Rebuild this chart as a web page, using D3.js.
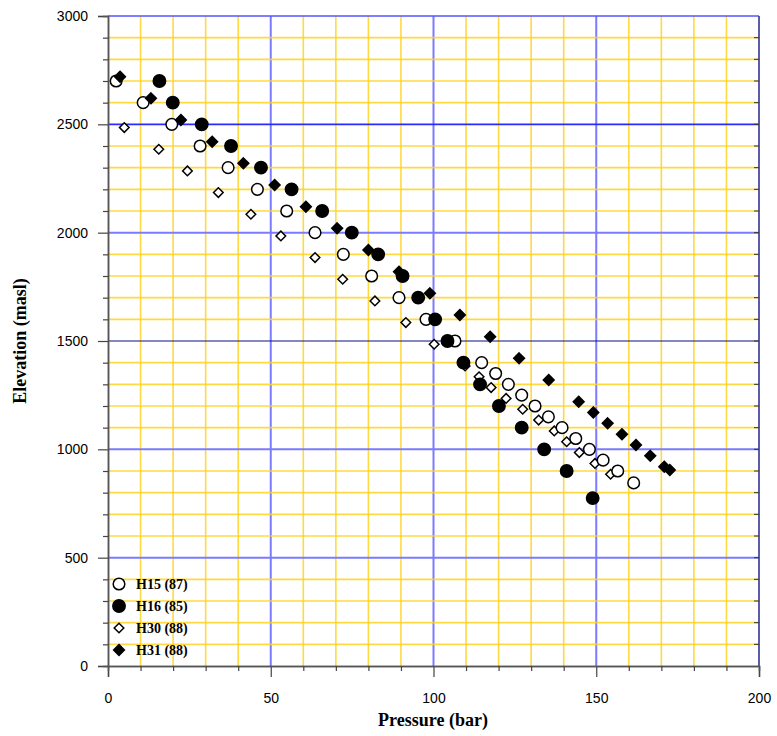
<!DOCTYPE html>
<html><head><meta charset="utf-8">
<script src="https://cdn.jsdelivr.net/npm/d3@7"></script>
<style>body{margin:0;background:#fff}</style>
</head><body>
<svg id="c" width="777" height="736"></svg>
<script>
// Data (pressure in bar, elevation in masl)
const h15P = [2.5,10.8,19.6,28.3,36.9,45.9,54.9,63.6,72.3,81.0,89.4,97.7,106.6,114.8,119.1,123.0,127.1,131.2,135.3,139.5,143.7,147.9,152.1,156.6,161.5];
const h15E = [2700,2600,2500,2400,2300,2200,2100,2000,1900,1800,1700,1600,1500,1400,1350,1300,1250,1200,1150,1100,1050,1000,950,900,845];
const h16P = [15.8,19.9,28.8,37.8,47.0,56.4,65.8,74.9,83.0,90.5,95.3,100.5,104.3,109.2,114.3,120.1,127.1,134.0,140.9,148.9];
const h16E = [2700,2600,2500,2400,2300,2200,2100,2000,1900,1800,1700,1600,1500,1400,1300,1200,1100,1000,900,775];
const h30P = [5.0,15.6,24.4,33.9,43.9,53.1,63.6,72.1,82.0,91.5,100.2,109.7,114.0,117.7,122.3,127.4,132.3,137.1,140.9,144.8,149.6,154.4];
const h30E = [2485,2385,2285,2185,2085,1985,1885,1785,1685,1585,1485,1385,1335,1285,1235,1185,1135,1085,1035,985,935,885];
const h31P = [3.7,13.2,22.4,32.0,41.6,51.2,60.8,70.4,80.0,89.4,98.9,108.1,117.4,126.3,135.4,144.6,149.1,153.5,157.9,162.2,166.6,170.9,172.6];
const h31E = [2720,2620,2520,2420,2320,2220,2120,2020,1920,1820,1720,1620,1520,1420,1320,1220,1170,1120,1070,1020,970,920,905];
const seriesNames = ["H15 (87)","H16 (85)","H30 (88)","H31 (88)"];
const xTicks = [0,50,100,150,200];
const yTicks = [0,500,1000,1500,2000,2500,3000];

const svg = d3.select("#c");
const L=108, R=759, T=16, B=666;
const x = d3.scaleLinear().domain([0,200]).range([L,R]);
const y = d3.scaleLinear().domain([0,3000]).range([B,T]);

// grid
const g = svg.append("g");
d3.range(10,200,10).forEach(v=>{
  const major = v%50===0;
  g.append("line").attr("x1",x(v)).attr("x2",x(v)).attr("y1",T).attr("y2",B)
   .attr("stroke", major?"#7b7bff":"#ffd21f").attr("stroke-width",major?2:1.6).attr("stroke-opacity",major?1:0.85);
});
d3.range(100,3000,100).forEach(v=>{
  const major = v%500===0;
  let col = major?"#7b7bff":"#ffd21f";
  let w = major?2:1.6;
  if(v===2500){col="#2a2aff"; w=1.6;}
  if(v===1500){col="#101080"; w=1.2;}
  g.append("line").attr("x1",L).attr("x2",R).attr("y1",y(v)).attr("y2",y(v))
   .attr("stroke", col).attr("stroke-width",w).attr("stroke-opacity",major?1:0.85);
});
// top & right border
svg.append("line").attr("x1",L).attr("x2",R).attr("y1",T).attr("y2",T).attr("stroke","#5555ff").attr("stroke-width",1.5);
svg.append("line").attr("x1",R).attr("x2",R).attr("y1",T).attr("y2",B).attr("stroke","#4a4aa0").attr("stroke-width",1.8);

// inner right ticks
d3.range(100,3000,100).forEach(v=>{
  svg.append("line").attr("x1",R-5).attr("x2",R).attr("y1",y(v)).attr("y2",y(v)).attr("stroke","#333").attr("stroke-width",1);
});

// axes
const yAxis = d3.axisLeft(y).tickValues(yTicks).tickSize(10).tickPadding(10).tickFormat(d3.format("d"));
const yA = svg.append("g").attr("transform",`translate(${L},0)`).call(yAxis);
const yMinor = svg.append("g").attr("transform",`translate(${L},0)`).call(d3.axisLeft(y).tickValues(d3.range(100,3000,100).filter(v=>v%500)).tickSize(5).tickFormat(""));
const xAxis = d3.axisBottom(x).tickValues(xTicks).tickSize(11).tickPadding(13);
const xA = svg.append("g").attr("transform",`translate(0,${B})`).call(xAxis);
const xMinor = svg.append("g").attr("transform",`translate(0,${B})`).call(d3.axisBottom(x).tickValues(d3.range(10,200,10).filter(v=>v%50)).tickSize(5).tickFormat(""));
[yA,yMinor,xA,xMinor].forEach(a=>{
  a.select(".domain").attr("stroke","#555").attr("stroke-width",1.5);
  a.selectAll(".tick line").attr("stroke","#444").attr("stroke-width",1.2);
  a.selectAll("text").attr("font-family","Liberation Sans, Arial, sans-serif").attr("font-size",14).attr("fill","#000");
});
xA.selectAll("text").attr("dy","0.9em");

// titles
svg.append("text").attr("x",433).attr("y",726).attr("text-anchor","middle")
  .attr("font-family","Liberation Serif, Times New Roman, serif").attr("font-weight","bold").attr("font-size",18).text("Pressure (bar)");
svg.append("text").attr("transform","translate(26,341) rotate(-90)").attr("text-anchor","middle")
  .attr("font-family","Liberation Serif, Times New Roman, serif").attr("font-weight","bold").attr("font-size",18).text("Elevation (masl)");

// markers
const diamond = s => `M0,${-s}L${s},0L0,${s}L${-s},0Z`;
function circles(P,E,filled,r){
  svg.append("g").selectAll("circle").data(P.map((p,i)=>[p,E[i]])).join("circle")
    .attr("cx",d=>x(d[0])).attr("cy",d=>y(d[1])).attr("r",r)
    .attr("fill",filled?"#000":"#fff").attr("stroke","#000").attr("stroke-width",1.5);
}
function diamonds(P,E,filled,s){
  svg.append("g").selectAll("path").data(P.map((p,i)=>[p,E[i]])).join("path")
    .attr("transform",d=>`translate(${x(d[0])},${y(d[1])})`).attr("d",diamond(s))
    .attr("fill",filled?"#000":"#fff").attr("stroke","#000").attr("stroke-width",1.5);
}
diamonds(h30P,h30E,false,4.8);
circles(h15P,h15E,false,5.8);
circles(h16P,h16E,true,6.2);
diamonds(h31P,h31E,true,5.4);

// legend
const lg = svg.append("g");
const ly = [584,606,628,650];
seriesNames.forEach((n,i)=>{
  const cx=119, cy=ly[i];
  if(i===0) lg.append("circle").attr("cx",cx).attr("cy",cy).attr("r",5.8).attr("fill","#fff").attr("stroke","#000").attr("stroke-width",1.5);
  if(i===1) lg.append("circle").attr("cx",cx).attr("cy",cy).attr("r",6.2).attr("fill","#000").attr("stroke","#000").attr("stroke-width",1.5);
  if(i===2) lg.append("path").attr("transform",`translate(${cx},${cy})`).attr("d",diamond(4.8)).attr("fill","#fff").attr("stroke","#000").attr("stroke-width",1.5);
  if(i===3) lg.append("path").attr("transform",`translate(${cx},${cy})`).attr("d",diamond(5.4)).attr("fill","#000").attr("stroke","#000").attr("stroke-width",1.5);
  lg.append("text").attr("x",136).attr("y",cy+5).attr("font-family","Liberation Serif, Times New Roman, serif")
    .attr("font-weight","bold").attr("font-size",14).text(n);
});
</script>
</body></html>
